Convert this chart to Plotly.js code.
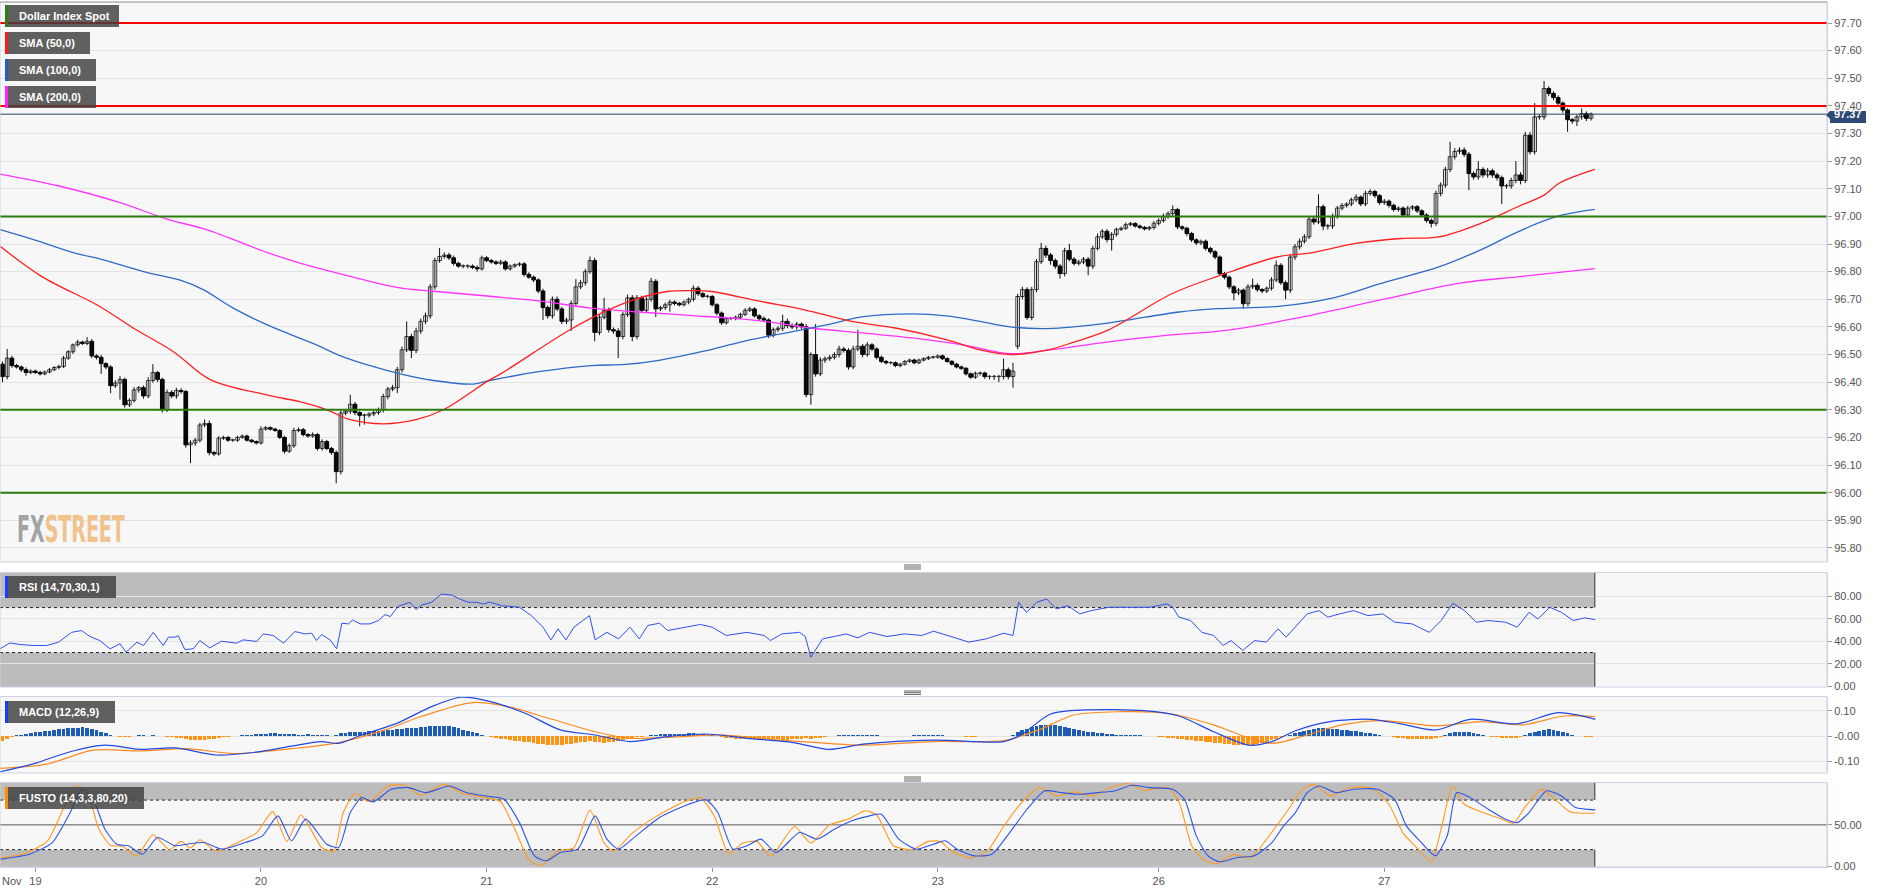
<!DOCTYPE html>
<html><head><meta charset="utf-8">
<script src="https://cdn.plot.ly/plotly-3.0.1.min.js"></script>
<style>html,body{margin:0;padding:0;background:#fff;overflow:hidden}#chart{width:1885px;height:894px}</style>
</head><body><div id="chart"></div>
<script>
// ---------- DATA (30-minute candles, x = candle index) ----------
const closes = [
96.42,96.487,96.46,96.455,96.445,96.435,96.44,96.435,96.43,96.437,
96.445,96.453,96.457,96.487,96.51,96.535,96.545,96.54,96.548,96.495,
96.49,96.467,96.455,96.387,96.397,96.41,96.318,96.334,96.372,96.38,
96.35,96.406,96.435,96.41,96.30,96.363,96.35,96.37,96.366,96.173,
96.18,96.19,96.245,96.25,96.145,96.14,96.197,96.2,96.19,96.19,
96.2,96.205,96.19,96.185,96.18,96.23,96.235,96.23,96.225,96.2,
96.15,96.17,96.225,96.228,96.21,96.205,96.21,96.16,96.185,96.16,
96.145,96.076,96.288,96.295,96.32,96.29,96.28,96.28,96.285,96.29,
96.30,96.348,96.375,96.38,96.445,96.517,96.565,96.515,96.585,96.62,
96.64,96.745,96.84,96.855,96.86,96.85,96.83,96.82,96.82,96.82,
96.815,96.81,96.85,96.84,96.835,96.83,96.835,96.81,96.82,96.825,
96.828,96.79,96.78,96.77,96.73,96.67,96.64,96.70,96.665,96.62,
96.625,96.685,96.745,96.76,96.80,96.84,96.58,96.635,96.66,96.59,
96.585,96.565,96.645,96.705,96.565,96.705,96.66,96.70,96.765,96.665,
96.67,96.68,96.69,96.685,96.68,96.69,96.70,96.74,96.72,96.71,
96.71,96.68,96.65,96.615,96.63,96.63,96.635,96.645,96.66,96.665,
96.64,96.63,96.625,96.57,96.59,96.595,96.62,96.605,96.60,96.61,
96.60,96.355,96.50,96.43,96.48,96.485,96.49,96.50,96.52,96.515,
96.455,96.52,96.53,96.50,96.535,96.52,96.49,96.475,96.47,96.47,
96.46,96.465,96.475,96.48,96.47,96.48,96.485,96.49,96.49,96.495,
96.485,96.475,96.465,96.455,96.45,96.43,96.418,96.432,96.433,96.42,
96.42,96.42,96.42,96.445,96.42,96.44,96.71,96.735,96.634,96.735,
96.836,96.884,96.86,96.84,96.82,96.793,96.876,96.845,96.83,96.835,
96.845,96.82,96.884,96.926,96.946,96.916,96.935,96.953,96.957,96.97,
96.974,96.965,96.96,96.955,96.96,96.975,96.985,97.0,97.01,97.025,
96.962,96.957,96.938,96.915,96.904,96.91,96.884,96.872,96.853,96.793,
96.78,96.745,96.723,96.733,96.684,96.745,96.75,96.735,96.73,96.74,
96.77,96.823,96.76,96.733,96.853,96.89,96.91,96.926,96.99,96.98,
97.035,96.965,96.965,97.0,97.03,97.04,97.045,97.06,97.07,97.045,
97.083,97.09,97.075,97.05,97.055,97.04,97.025,97.03,97.005,97.03,
97.035,97.02,97.005,96.985,96.975,97.083,97.113,97.17,97.216,97.235,
97.24,97.225,97.155,97.143,97.17,97.15,97.165,97.15,97.14,97.11,
97.11,97.13,97.15,97.13,97.294,97.234,97.36,97.36,97.463,97.445,
97.43,97.41,97.385,97.35,97.345,97.36,97.372,97.355,97.37];
// opens follow the previous close except at session gaps
const gapOpenIdx = [0, 216];
const gapOpenVal = [96.465, 96.53];
// wick lengths above / below the body, in thousandths of a point
const wickUp = [
10,33,8,6,5,8,6,5,6,5, 6,5,6,8,6,5,8,5,15,8, 6,8,5,6,10,12,6,8,10,6, 8,12,30,6,6,10,8,10,8,6,
10,8,8,15,11,6,8,6,5,5, 6,5,5,4,4,10,6,5,5,5, 6,8,10,8,6,6,8,6,8,6, 6,8,10,8,34,8,6,6,6,8,
8,10,8,10,10,12,55,10,12,10, 12,10,10,31,10,8,8,6,6,6, 6,8,8,6,6,6,8,6,6,5, 6,6,8,6,6,8,8,10,10,8,
8,10,28,10,10,15,10,10,45,10, 8,10,10,12,10,10,8,10,12,8, 6,8,8,6,6,6,6,10,8,6, 6,6,6,6,6,6,6,6,8,8,
6,6,8,6,8,8,24,10,8,8, 6,10,8,110,10,8,8,8,12,8, 8,12,60,8,10,6,6,6,5,5, 5,5,5,5,5,5,5,5,5,5,
5,5,5,5,5,5,5,6,5,5, 5,6,6,40,8,30,10,10,8,10, 10,20,10,8,8,8,10,25,8,8, 8,8,10,12,8,8,8,6,6,8,
6,5,5,5,6,8,8,10,8,15, 6,6,5,6,6,6,6,6,6,6, 6,6,6,8,6,10,25,8,6,6, 10,17,8,8,10,10,10,10,10,10,
45,8,8,10,8,8,6,8,10,6, 10,8,6,6,8,6,6,6,6,8, 6,6,6,6,8,10,10,10,54,12, 10,10,8,8,30,8,10,8,8,8,
8,10,50,10,12,12,50,10,27,8, 8,8,6,6,6,8,19,8,6];
const wickDn = [
20,10,8,6,8,12,6,5,6,5, 5,5,6,6,6,8,6,6,6,8, 8,37,8,27,8,60,10,8,8,10, 10,8,8,10,10,8,8,10,8,10,
66,10,8,8,10,8,6,6,6,6, 6,5,5,5,6,6,5,5,5,6, 8,6,8,6,6,6,6,8,8,6, 8,42,10,8,10,10,40,34,8,8,
8,10,10,8,20,10,8,28,10,10, 10,10,10,8,8,8,8,6,8,8, 6,10,6,6,6,6,6,6,6,6, 6,8,6,8,8,45,10,10,8,10,
10,40,8,8,10,8,32,10,8,10, 10,78,10,10,17,10,10,10,8,29, 8,8,25,8,6,6,8,8,8,6, 6,6,8,8,6,6,6,6,6,6,
6,8,6,10,8,8,10,10,8,10, 8,10,37,10,8,10,8,8,10,8, 10,8,8,10,8,8,8,6,6,6, 6,6,5,5,5,5,5,5,5,5,
5,5,5,5,6,6,6,6,8,8, 10,12,20,10,10,40,10,10,8,10, 10,8,10,15,10,18,10,8,8,8, 8,33,10,8,8,10,40,8,6,6,
5,6,6,6,6,8,8,8,8,8, 8,8,10,8,8,8,8,8,8,8, 8,8,27,8,18,10,8,8,8,8, 8,8,8,33,10,10,10,8,8,10,
8,15,12,10,8,8,8,8,8,8, 8,8,8,8,8,8,8,8,8,8, 8,8,8,8,15,10,10,10,10,10, 10,10,60,10,10,10,10,10,10,66,
10,10,10,14,10,10,10,10,10,10, 10,10,10,44,10,18,10,10,8];

const sma50X = [-0.5,8.3,20.7,27.8,36.3,44.2,56.2,63,69,74,81,88,93.8,103.7,106,120.2,127.4,134.6,141.8,146.9,150.5,161.3,170.6,180.7,190,200.8,208,214.5,222,228,235.2,248.8,259.2,271.2,278.4,288,297.6,305.6,314.4,322.4,328,331.2,338.8];
const sma50Y = [96.892,96.783,96.674,96.596,96.511,96.409,96.354,96.33,96.30,96.264,96.249,96.264,96.30,96.409,96.43,96.584,96.65,96.70,96.729,96.731,96.729,96.692,96.662,96.62,96.596,96.554,96.517,96.50,96.515,96.545,96.588,96.72,96.787,96.853,96.868,96.902,96.92,96.926,96.974,97.035,97.077,97.12,97.17];
const sma100X = [-0.5,6.6,15.8,20.7,30,37.8,42.7,49.1,56.2,66.8,71.8,77.5,84.6,91.7,100.2,103.7,114.5,125.3,132.5,139.7,149,157.7,168.4,175.6,182.8,193.6,200.8,208,214.4,222.4,234.4,250.4,258.4,272,282.4,294.4,305.6,314.4,322.4,330.4,338.8];
const sma100Y = [96.952,96.916,96.865,96.846,96.80,96.769,96.735,96.668,96.608,96.535,96.496,96.463,96.43,96.406,96.393,96.406,96.439,96.46,96.464,96.479,96.511,96.548,96.584,96.608,96.636,96.647,96.64,96.62,96.60,96.594,96.612,96.654,96.666,96.675,96.702,96.763,96.817,96.878,96.944,96.998,97.025];
const sma200X = [-0.5,12,25,35,43.4,56.2,63.3,74,84.6,91.7,103.7,114.5,125.3,136.1,146.9,157.7,164.9,172,182.8,193.6,204.4,214.5,222,235,248,260.8,278.4,294.4,310.4,322.4,338.8];
const sma200Y = [97.153,97.11,97.05,96.99,96.952,96.87,96.831,96.783,96.741,96.729,96.711,96.693,96.668,96.653,96.641,96.628,96.614,96.596,96.578,96.56,96.535,96.503,96.515,96.545,96.57,96.588,96.642,96.702,96.759,96.781,96.811];

const resistanceLevels = [97.70, 97.40];
const supportLevels = [97.00, 96.30, 96.00];
const lastPrice = 97.37;

const rsiX = [-0.5,1.6,3.7,6.6,9.4,11.9,14.7,16.8,18.6,20.7,22.9,25,26.3,28.6,30,32.1,34.2,35.3,36.7,37.4,38.8,40.6,42,44.1,46.6,49.8,51.2,54.1,55.5,57.6,59.8,62.2,64.4,65.8,66.8,67.9,69.7,71.1,72.2,73.6,74.5,76.1,78.2,80,81.4,82.5,84.2,86.7,88,89.2,91.3,93.4,95.6,97.3,99.1,100.9,102.3,103.7,106.2,110,112.5,115,116.7,118.2,119.9,121.6,124.9,126.1,128.6,131.1,133.5,135.5,137.3,139.8,141.5,144.7,148.5,151,154,158.4,162.1,163.4,165.8,169.6,170.8,172,174.5,177,179.5,182,184.5,188.2,191.9,195.6,198.1,201.8,205.6,209.3,213,215,216.2,217.9,220,222.2,224.2,226.7,229.2,231.6,235.4,239.1,244.1,247.8,249,250.3,252.8,255.2,257.7,259.7,261.4,263.9,266.4,268.9,271.4,273.1,275.6,277.6,280.1,282,284.5,287.5,290.5,293.7,296.2,299.9,303.6,306.1,308.6,311.1,313.6,316.1,319.8,322.3,324.8,326.7,329.2,331.7,334.2,336.7,338.9];
const rsiY = [33.4,38.6,37.2,36.3,36.3,39.2,48.0,49.6,44.3,40.7,33.4,37.8,30.4,39.3,36.3,48.0,36.3,43.7,43.7,45,32.7,33.4,40.7,34.2,40.1,38.4,41.3,39.9,46.6,45.2,38.4,48.7,46.6,47.2,40.7,46,41.3,33.4,56.1,55.5,59,55.5,55.5,58.5,63.8,62,71.2,74.7,68.2,72.3,74.7,82.1,81.1,77.6,74.7,74.7,73.2,74.9,71.7,70.3,62.9,52.6,41.3,51.1,41.3,52.6,62.9,41.3,48.0,42.2,52.6,42.2,54.1,56.1,49.6,52,55,52.6,45.2,48,45.2,40.7,46.6,48,44.3,25.9,42.2,44.3,46.6,43.1,48,44.3,46.6,45.2,49,44.3,39.3,42.2,47.2,45.2,74.7,65.8,74.7,77.6,68.8,71.7,64.4,67.3,70.3,70.3,70.3,73.2,70.3,61.5,58.5,48,45.2,36.3,40.7,31.9,40.7,39.3,51.1,43.7,55.5,64.4,67.3,61.5,64.4,67.3,62.9,64.4,57,55.5,48,58.5,73.8,67.3,57,58.5,57,52.6,65.8,59.9,70.3,65.8,58.5,60.9,59.2];

const macdX = [-0.5,6.9,14.4,21.8,29.3,36.7,45.4,52.9,61.5,67.8,71.5,76.4,83.9,91.3,97.5,103.8,111.2,118.7,126.1,133.6,141,149.7,158.4,168.3,175.8,183.2,198.1,213,216.7,223,230.4,242.8,250.3,257.7,265.2,270.1,275.1,282.5,291.2,297.5,305,312.3,322.3,331,338.9];
const macdY = [-0.141,-0.108,-0.062,-0.036,-0.053,-0.047,-0.075,-0.066,-0.04,-0.022,-0.029,0.004,0.05,0.116,0.153,0.136,0.09,0.024,0.004,-0.022,-0.003,0.008,-0.009,-0.026,-0.053,-0.032,-0.016,-0.022,0.004,0.087,0.103,0.1,0.079,0.017,-0.036,-0.022,0.021,0.057,0.066,0.048,0.024,0.066,0.048,0.092,0.066];
const signalX = [-0.5,9.4,19.3,29.3,39.2,49.1,61.5,71.5,81.4,88.9,100,107.5,116.2,126.1,133.6,143.5,153.4,163.4,173.3,183.2,198.1,213,220.5,227.9,237.8,247.8,257.7,264,270.1,277.6,285,293.7,304.9,314.8,323.5,332.2,338.9];
const signalY = [-0.128,-0.111,-0.056,-0.059,-0.05,-0.069,-0.05,-0.026,0.024,0.076,0.132,0.116,0.07,0.017,-0.009,-0.003,0.004,-0.013,-0.026,-0.036,-0.022,-0.018,0.024,0.083,0.096,0.09,0.044,0,-0.029,0.004,0.044,0.061,0.04,0.057,0.044,0.079,0.076];
const macdHist = [
-0.02,-0.012,-0.005,0.003,0.006,0.009,0.012,0.015,0.017,0.019, 0.021,0.023,0.026,0.028,0.03,0.032,0.033,0.034,0.032,0.028,
0.022,0.016,0.01,0.005,0.002,-0.004,-0.005,-0.002,0.002,0.004, 0.003,0.002,0.003,0.002,0.001,-0.002,-0.004,-0.006,-0.009,-0.012,
-0.015,-0.017,-0.016,-0.014,-0.012,-0.01,-0.008,-0.005,-0.003,-0.001, 0.002,0.004,0.005,0.006,0.007,0.008,0.009,0.01,0.01,0.009,
0.009,0.008,0.007,0.006,0.006,0.007,0.006,0.005,0.004,0.003, 0.002,0.005,0.01,0.013,0.015,0.016,0.017,0.017,0.018,0.018,
0.019,0.02,0.022,0.025,0.027,0.029,0.03,0.031,0.033,0.034, 0.036,0.038,0.04,0.041,0.041,0.038,0.034,0.03,0.025,0.02,
0.015,0.01,0.006,0.002,-0.004,-0.007,-0.01,-0.012,-0.015,-0.018, -0.02,-0.022,-0.025,-0.028,-0.03,-0.032,-0.034,-0.035,-0.036,-0.035,
-0.033,-0.03,-0.028,-0.025,-0.022,-0.02,-0.022,-0.024,-0.026,-0.025, -0.022,-0.019,-0.015,-0.011,-0.008,-0.005,-0.002,0.001,0.004,0.006,
0.007,0.008,0.008,0.008,0.009,0.009,0.01,0.01,0.009,0.008, 0.006,0.003,0.001,-0.003,-0.006,-0.008,-0.01,-0.011,-0.012,-0.012,
-0.011,-0.01,-0.01,-0.011,-0.012,-0.013,-0.014,-0.014,-0.013,-0.012, -0.01,-0.008,-0.012,-0.009,-0.006,-0.003,0,0.002,0.003,0.004,
0.003,0.004,0.005,0.005,0.005,0.004,0.003,0.002,0.002,0.002, 0.001,0.001,0.001,0.002,0.003,0.004,0.005,0.005,0.005,0.004,
0.003,0.002,0.001,0,-0.001,-0.002,-0.002,-0.002,-0.001,-0.001, 0,0,0.001,0.002,0.002,0.003,0.015,0.022,0.028,0.034,
0.038,0.042,0.044,0.045,0.043,0.04,0.036,0.032,0.027,0.023, 0.02,0.017,0.014,0.012,0.01,0.008,0.007,0.006,0.006,0.005,
0.004,0.004,0.003,0.002,0.001,0,-0.002,-0.004,-0.006,-0.008, -0.01,-0.012,-0.014,-0.016,-0.018,-0.02,-0.022,-0.025,-0.027,-0.029,
-0.031,-0.033,-0.034,-0.035,-0.036,-0.036,-0.034,-0.031,-0.027,-0.022, -0.016,-0.01,-0.005,-0.001,0.005,0.01,0.016,0.021,0.025,0.028,
0.03,0.031,0.03,0.028,0.026,0.024,0.022,0.02,0.018,0.015, 0.012,0.01,0.007,0.004,0.002,0,-0.003,-0.006,-0.008,-0.01,
-0.011,-0.012,-0.012,-0.011,-0.01,-0.007,-0.003,0.004,0.01,0.014, 0.016,0.016,0.014,0.011,0.008,0.005,0.002,-0.002,-0.005,-0.007,
-0.008,-0.008,-0.007,-0.004,0.004,0.01,0.016,0.021,0.025,0.026, 0.024,0.02,0.015,0.01,0.006,0.002,-0.001,-0.003,-0.004];

const stochDX = [-0.5,5.7,10.6,14.4,16.9,19.3,21.8,24.3,26.8,29.8,33,36.7,39.2,42.9,46.6,51.6,55.3,58.6,61.5,64.5,69,71.5,74,76.4,78.9,82.7,86.4,90.1,95.1,98.8,103.8,106.7,110,113.2,115.7,118.7,122.4,126.1,128.6,131.1,134.8,139.8,146,149.7,152.2,155.4,158.4,161.4,164.6,169.6,173.3,177,180.7,184.5,187,190.7,194.4,198.1,200.6,203.1,206.8,210.5,214.3,218,221.7,225.4,229.1,232.9,236.6,240.3,244,249,251.5,254,256.5,259,262.7,266.4,270.1,272.6,275.1,277.6,280.1,283.8,287.5,292.5,296.2,298.7,301.9,304.9,307.4,309.4,312.3,316.1,319.8,322.3,324.8,328.5,331.7,334.7,338.9];
const stochDY = [8.5,14.5,28.6,64.9,93.1,81,44.7,26.6,24.6,14.5,34.7,24.6,26.6,28.6,20.6,28.6,36.7,60.9,30.7,56.9,26.6,22.6,64.9,83,77.8,93.1,95.1,89,97.1,89,84.2,81,52.7,12.5,6.5,16.5,20.6,60.9,32.7,20.6,36.7,58.9,75,80.3,64.9,20.6,24.6,32.7,16.5,40.7,32.7,44.7,54.9,60.9,62.9,32.7,20.6,26.6,30.7,20.6,12.5,14.5,40.7,68.9,91.1,89,87,89,91.1,97.9,95.1,93.1,81,36.7,12.5,5.3,10.5,12.5,28.6,48.8,64.9,89,97.1,89,93.1,93.1,81,48.8,28.6,12.5,36.7,89,83,68.9,56.9,52.7,64.9,91.1,85,70.9,68.1];
const stochKX = [-0.5,4.5,9.5,13,15.7,18,20.5,23,25.5,28.5,32,35.5,38,40,42,45.5,50.5,54,57.5,60.5,63.5,68,70.5,72.5,75,78,82,85.5,89,94,98,103,106,109,112,114.5,118,121.5,125,128,130,134,139,145,148.5,151.5,154.5,157.5,160.5,163.5,168.5,172,176,180,183.5,186,189.5,193.5,197,199.5,202,206,209.5,213,217,220.5,224.5,228,232,235.5,239.5,243,248,250.5,253,255.5,258,262,265.5,269,271.5,274,276.5,279,282.5,286.5,291.5,295,298,301,304,306.5,308.5,311,315,318.5,321.5,324,327.5,330.5,333.5,338.9];
const stochKY = [10,15,30,70,97,90,45,25,24,12,38,20,30,22,32,18,30,40,66,30,62,22,18,65,88,78,97,98,86,99,88,83,78,45,8,0,18,22,68,28,18,40,60,78,83,60,15,28,30,12,48,28,50,57,67,62,25,20,30,30,18,10,18,48,78,95,85,90,85,95,100,92,95,75,25,8,3,14,10,33,52,72,93,99,85,95,94,75,40,22,5,55,97,75,65,58,52,72,93,80,66,64];

const dayTicks = [7, 55, 103, 151, 199, 246, 294];
const dayLabels = ['19', '20', '21', '22', '23', '26', '27'];

// ---------- BUILD ----------
const idx = closes.map((_, i) => i);
const opens = closes.map((c, i) => {
  const g = gapOpenIdx.indexOf(i);
  return g >= 0 ? gapOpenVal[g] : closes[i - 1];
});
const highs = closes.map((c, i) => Math.max(opens[i], c) + wickUp[i] / 1000);
const lows = closes.map((c, i) => Math.min(opens[i], c) - wickDn[i] / 1000);
const upIdx = idx.filter(i => closes[i] >= opens[i]);
const dnIdx = idx.filter(i => closes[i] < opens[i]);
const wickX = [], wickY = [];
idx.forEach(i => { wickX.push(i, i, null); wickY.push(lows[i], highs[i], null); });
const MINBODY = 0.0012;

const lastX = idx[idx.length - 1] + 0.8;
const X0 = -0.53, X1 = 388.2;

const PW = 1827, PH = 865, BOT = 867;
const px = x => x / PW;
const py = y => (BOT - y) / PH;

const FONT = 'Liberation Sans, Arial, sans-serif';

const data = [
  {type: 'scatter', mode: 'lines', x: wickX, y: wickY, yaxis: 'y', connectgaps: false,
   line: {color: '#111', width: 1}, hoverinfo: 'skip'},
  {type: 'bar', x: upIdx, base: upIdx.map(i => opens[i]), y: upIdx.map(i => Math.max(closes[i] - opens[i], MINBODY)),
   yaxis: 'y', width: 0.78, marker: {color: '#ffffff', line: {color: '#3a3a3a', width: 1}}},
  {type: 'bar', x: dnIdx, base: dnIdx.map(i => closes[i]), y: dnIdx.map(i => Math.max(opens[i] - closes[i], MINBODY)),
   yaxis: 'y', width: 0.78, marker: {color: '#000000', line: {color: '#000000', width: 1}}},
  {type: 'scatter', mode: 'lines', x: sma200X, y: sma200Y, yaxis: 'y',
   line: {color: '#ff33ff', width: 1.3, shape: 'spline', smoothing: 1}},
  {type: 'scatter', mode: 'lines', x: sma100X, y: sma100Y, yaxis: 'y',
   line: {color: '#2f6bc6', width: 1.3, shape: 'spline', smoothing: 1}},
  {type: 'scatter', mode: 'lines', x: sma50X, y: sma50Y, yaxis: 'y',
   line: {color: '#ff2020', width: 1.3, shape: 'spline', smoothing: 1}},
  {type: 'scatter', mode: 'lines', x: rsiX, y: rsiY, yaxis: 'y2',
   line: {color: '#3050ee', width: 1}},
  {type: 'bar', x: idx, y: macdHist, yaxis: 'y3', width: 0.8,
   marker: {color: macdHist.map(v => v >= 0 ? '#1f5cb5' : '#ff9414'), line: {width: 0}}},
  {type: 'scatter', mode: 'lines', x: signalX, y: signalY, yaxis: 'y3',
   line: {color: '#ff8a1e', width: 1.2, shape: 'spline', smoothing: 0.8}},
  {type: 'scatter', mode: 'lines', x: macdX, y: macdY, yaxis: 'y3',
   line: {color: '#2148e0', width: 1.2, shape: 'spline', smoothing: 0.8}},
  {type: 'scatter', mode: 'lines', x: stochKX, y: stochKY, yaxis: 'y4',
   line: {color: '#ff9a1f', width: 1.1, shape: 'spline', smoothing: 0.6}},
  {type: 'scatter', mode: 'lines', x: stochDX, y: stochDY, yaxis: 'y4',
   line: {color: '#2d55e6', width: 1.1, shape: 'spline', smoothing: 0.6}}
];

const yCommon = {
  side: 'right', anchor: 'x', zeroline: false, showline: true, linecolor: '#ccd3e4', linewidth: 1,
  ticks: 'outside', ticklen: 4, tickcolor: '#999', tickfont: {family: FONT, size: 11, color: '#555'},
  gridcolor: '#e3e3e3', showgrid: true, fixedrange: true
};

const shapes = [];
resistanceLevels.forEach(v => shapes.push({type: 'line', xref: 'paper', x0: 0, x1: 1, yref: 'y', y0: v, y1: v, line: {color: '#ff0000', width: 2}}));
supportLevels.forEach(v => shapes.push({type: 'line', xref: 'paper', x0: 0, x1: 1, yref: 'y', y0: v, y1: v, line: {color: '#2b7a0b', width: 2}}));
shapes.push({type: 'line', xref: 'paper', x0: 0, x1: 1, yref: 'y', y0: lastPrice, y1: lastPrice, line: {color: '#2d4164', width: 1}});
function zone(yref, lo, hi, thr) {
  shapes.push({type: 'rect', xref: 'x', yref: yref, x0: X0, x1: lastX, y0: lo, y1: hi, fillcolor: '#bcbcbc', line: {width: 0}, layer: 'below'});
  shapes.push({type: 'line', xref: 'x', yref: yref, x0: X0, x1: lastX, y0: thr, y1: thr, line: {color: '#222', width: 1, dash: 'dot'}, layer: 'between'});
  shapes.push({type: 'line', xref: 'x', yref: yref, x0: lastX, x1: lastX, y0: lo, y1: hi, line: {color: '#333', width: 1}, layer: 'between'});
}
zone('y2', 70, 101.2, 70);
zone('y2', -0.6, 30, 30);
zone('y4', 80, 101.3, 80);
zone('y4', -1, 20, 20);
shapes.push({type: 'line', xref: 'x', yref: 'y4', x0: X0, x1: X1, y0: 50, y1: 50, line: {color: '#555', width: 1}, layer: 'between'});
[[2, 562], [572.5, 687], [696.5, 773], [782.5, 867]].forEach(([t, b]) => {
  shapes.push({type: 'rect', xref: 'paper', yref: 'paper', x0: 0, x1: 1, y0: py(b), y1: py(t),
    line: {color: '#ccd3e4', width: 1}, fillcolor: 'rgba(0,0,0,0)'});
});
shapes.push({type: 'line', xref: 'paper', yref: 'paper', x0: 0, x1: 1, y0: py(2), y1: py(2), line: {color: '#a0a0a0', width: 1}});
[[565, 567, 569], [691, 692.7, 694.4], [777, 779, 781]].forEach(ys => ys.forEach(y =>
  shapes.push({type: 'line', xref: 'paper', yref: 'paper', x0: px(904), x1: px(921), y0: py(y), y1: py(y), line: {color: '#666', width: 1}})));
const labels = [
  {t: 5, b: 27, r: 119, text: 'Dollar Index Spot', c: '#2e7d12'},
  {t: 32, b: 54, r: 90, text: 'SMA (50,0)', c: '#ff1a1a'},
  {t: 59, b: 81, r: 96, text: 'SMA (100,0)', c: '#1f5fbf'},
  {t: 86, b: 108, r: 96, text: 'SMA (200,0)', c: '#ff22ff'},
  {t: 576, b: 598, r: 116, text: 'RSI (14,70,30,1)', c: '#1a3cff'},
  {t: 701, b: 723, r: 115, text: 'MACD (12,26,9)', c: '#1a3cff'},
  {t: 787, b: 809, r: 144, text: 'FUSTO (14,3,3,80,20)', c: '#ff8c00'}
];
const annotations = [];
labels.forEach(l => {
  shapes.push({type: 'rect', xref: 'paper', yref: 'paper', x0: px(5), x1: px(l.r), y0: py(l.b), y1: py(l.t), fillcolor: 'rgba(62,62,62,0.82)', line: {width: 0}});
  shapes.push({type: 'rect', xref: 'paper', yref: 'paper', x0: px(5), x1: px(8), y0: py(l.b), y1: py(l.t), fillcolor: l.c, line: {width: 0}});
  annotations.push({xref: 'paper', yref: 'paper', x: px(17), y: py((l.t + l.b) / 2), xanchor: 'left', yanchor: 'middle',
    text: '<b>' + l.text + '</b>', showarrow: false, font: {family: FONT, size: 11, color: '#ffffff'}});
});
shapes.push({type: 'path', xref: 'paper', yref: 'paper',
  path: `M ${px(1826)},${py(115)} L ${px(1830)},${py(111)} L ${px(1866)},${py(111)} L ${px(1866)},${py(123)} L ${px(1830)},${py(123)} L ${px(1830)},${py(119)} Z`,
  fillcolor: '#2d4a76', line: {width: 0}});
annotations.push({xref: 'paper', yref: 'y', x: px(1848), y: lastPrice, xanchor: 'center', yanchor: 'middle',
  text: '<b>97.37</b>', showarrow: false, font: {family: FONT, size: 11, color: '#ffffff'}});
annotations.push({xref: 'paper', yref: 'paper', x: 0, y: py(881), xanchor: 'left', yanchor: 'middle',
  text: 'Nov', showarrow: false, font: {family: FONT, size: 11, color: '#555'}});
annotations.push({xref: 'paper', yref: 'paper', x: px(15), y: py(529), xanchor: 'left', yanchor: 'middle',
  text: '<b><span style="color:#a3a3a3">FX</span><span style="color:#f1c28c">STREET</span></b>', showarrow: false,
  font: {family: 'Liberation Sans Narrow, DejaVu Sans Condensed, Arial Narrow, sans-serif', size: 37, color: '#a3a3a3'}});

const layout = {
  width: 1885, height: 894, margin: {l: 0, r: 58, t: 2, b: 27, pad: 0},
  paper_bgcolor: '#ffffff', plot_bgcolor: '#f7f7f7', showlegend: false, hovermode: false,
  font: {family: FONT, size: 11, color: '#555'}, barmode: 'overlay', bargap: 0,
  xaxis: {domain: [0, 1], range: [X0, X1], anchor: 'y4', tickvals: dayTicks, ticktext: dayLabels,
    showgrid: false, zeroline: false, showline: true, linecolor: '#ccd3e4', ticks: 'outside', ticklen: 4,
    tickcolor: '#999', tickfont: {family: FONT, size: 11, color: '#555'}, fixedrange: true},
  yaxis: Object.assign({}, yCommon, {domain: [py(562), 1], range: [95.749, 97.776], tick0: 95.8, dtick: 0.1, tickformat: '.2f'}),
  yaxis2: Object.assign({}, yCommon, {domain: [py(687), py(572.5)], range: [-0.6, 101.2], tickvals: [0, 20, 40, 60, 80], tickformat: '.2f'}),
  yaxis3: Object.assign({}, yCommon, {domain: [py(773), py(696.5)], range: [-0.146, 0.156], tickvals: [0.1, 0, -0.1], ticktext: ['0.10', '-0.00', '-0.10']}),
  yaxis4: Object.assign({}, yCommon, {domain: [0, py(782.5)], range: [-1, 101.3], tickvals: [0, 50], tickformat: '.2f', showgrid: false}),
  shapes: shapes, annotations: annotations
};

Plotly.newPlot('chart', data, layout, {staticPlot: true, displayModeBar: false}).then(gd => {
  gd.querySelectorAll('.annotation-text').forEach(t => {
    if (t.textContent === 'FXSTREET') {
      const bb = t.getBBox();
      const sx = 108 / bb.width;
      t.setAttribute('transform', `matrix(${sx},0,0,1,${bb.x * (1 - sx)},0)`);
    }
  });
});
</script></body></html>
